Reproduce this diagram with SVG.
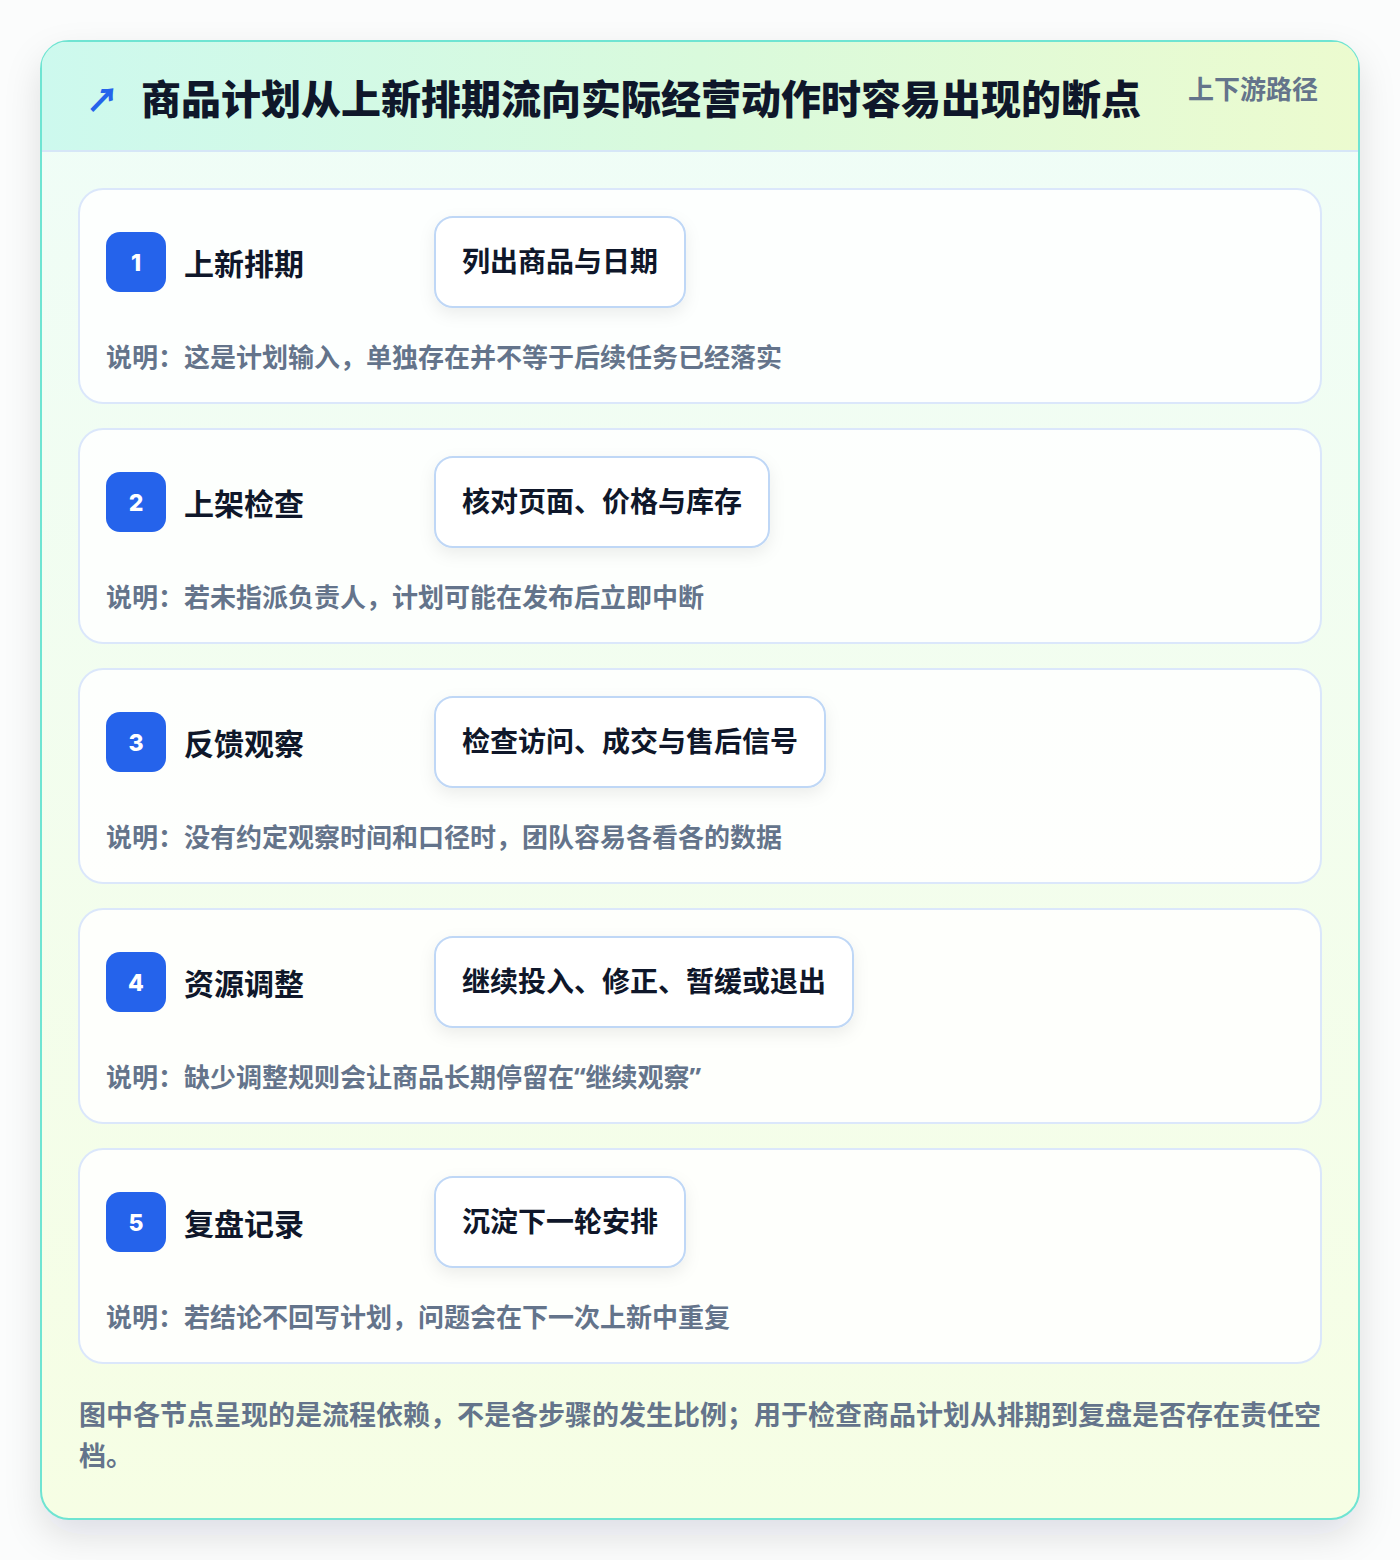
<svg xmlns="http://www.w3.org/2000/svg" width="1400" height="1560" viewBox="0 0 1400 1560">
  <defs>
    <linearGradient id="hdrGrad" x1="0" y1="0" x2="1" y2="0">
      <stop offset="0" stop-color="#cdf9ee"/>
      <stop offset="0.5" stop-color="#d9fadc"/>
      <stop offset="1" stop-color="#ecfbcf"/>
    </linearGradient>
    <linearGradient id="bodyGrad" x1="0" y1="0" x2="0" y2="1">
      <stop offset="0" stop-color="#effdf8"/>
      <stop offset="1" stop-color="#f6fee4"/>
    </linearGradient>
    <filter id="outerShadow" x="-10%" y="-10%" width="120%" height="120%">
      <feDropShadow dx="0" dy="16" stdDeviation="18" flood-color="#0f172a" flood-opacity="0.12"/>
    </filter>
    <filter id="pillShadow" x="-20%" y="-30%" width="140%" height="170%">
      <feDropShadow dx="0" dy="6" stdDeviation="8" flood-color="#0f172a" flood-opacity="0.07"/>
    </filter>
    <clipPath id="outerClip">
      <rect x="41" y="41" width="1318" height="1478" rx="28"/>
    </clipPath>
    <style>
      .cjk { font-family: "Noto Sans CJK SC", "Noto Sans", "Liberation Sans", sans-serif; }
      .lat { font-family: "Noto Sans", "Liberation Sans", sans-serif; }
      .card { fill: #ffffff; fill-opacity: 0.85; stroke: #dbe7fb; stroke-width: 2; }
      .badge { fill: #2563eb; }
      .badgeNum { font-family: "Inter", "Noto Sans", "Liberation Sans", sans-serif; font-size: 23px; font-weight: 800; fill: #ffffff; text-anchor: middle; }
      .stepTitle { font-size: 30px; font-weight: 700; fill: #0f172a; }
      .pill { fill: #ffffff; stroke: #bfd7f6; stroke-width: 2; }
      .pillText { font-size: 28px; font-weight: 700; fill: #0f172a; }
      .desc { font-size: 26px; font-weight: 700; fill: #64748b; }
      .foot { font-size: 27px; font-weight: 700; fill: #64748b; }
    </style>
  </defs>

  <rect x="0" y="0" width="1400" height="1560" fill="#fbfcfc"/>

  <g id="frame">
    <rect x="41" y="41" width="1318" height="1478" rx="28" fill="url(#bodyGrad)" filter="url(#outerShadow)"/>
    <rect x="41" y="41" width="1318" height="1478" rx="28" fill="url(#bodyGrad)" stroke="#6fe4d2" stroke-width="2"/>
  </g>

  <g id="header">
    <rect x="42" y="42" width="1316" height="109" fill="url(#hdrGrad)" clip-path="url(#outerClip)"/>
    <line x1="42" y1="151" x2="1358" y2="151" stroke="#d6e6f7" stroke-width="2"/>
    <text x="86" y="112" class="cjk" font-size="33" font-weight="800" fill="#2563eb">↗</text>
    <text x="141" y="114" class="cjk" font-size="40" font-weight="800" fill="#0f172a">商品计划从上新排期流向实际经营动作时容易出现的断点</text>
    <text x="1318" y="99" class="cjk" font-size="26" font-weight="700" fill="#64748b" text-anchor="end">上下游路径</text>
  </g>

  <g id="connectors"></g>

  <g id="step1">
    <rect class="card" x="79" y="189" width="1242" height="214" rx="24"/>
    <rect class="badge" x="106" y="232" width="60" height="60" rx="14"/>
    <text class="badgeNum" x="136" y="271">1</text>
    <text class="cjk stepTitle" x="184" y="275">上新排期</text>
    <rect class="pill" x="435" y="217" width="250" height="90" rx="18" filter="url(#pillShadow)"/>
    <text class="cjk pillText" x="462" y="272">列出商品与日期</text>
    <text class="cjk desc" x="106" y="367">说明：这是计划输入，单独存在并不等于后续任务已经落实</text>
  </g>

  <g id="step2">
    <rect class="card" x="79" y="429" width="1242" height="214" rx="24"/>
    <rect class="badge" x="106" y="472" width="60" height="60" rx="14"/>
    <text class="badgeNum" x="136" y="511">2</text>
    <text class="cjk stepTitle" x="184" y="515">上架检查</text>
    <rect class="pill" x="435" y="457" width="334" height="90" rx="18" filter="url(#pillShadow)"/>
    <text class="cjk pillText" x="462" y="512">核对页面、价格与库存</text>
    <text class="cjk desc" x="106" y="607">说明：若未指派负责人，计划可能在发布后立即中断</text>
  </g>

  <g id="step3">
    <rect class="card" x="79" y="669" width="1242" height="214" rx="24"/>
    <rect class="badge" x="106" y="712" width="60" height="60" rx="14"/>
    <text class="badgeNum" x="136" y="751">3</text>
    <text class="cjk stepTitle" x="184" y="755">反馈观察</text>
    <rect class="pill" x="435" y="697" width="390" height="90" rx="18" filter="url(#pillShadow)"/>
    <text class="cjk pillText" x="462" y="752">检查访问、成交与售后信号</text>
    <text class="cjk desc" x="106" y="847">说明：没有约定观察时间和口径时，团队容易各看各的数据</text>
  </g>

  <g id="step4">
    <rect class="card" x="79" y="909" width="1242" height="214" rx="24"/>
    <rect class="badge" x="106" y="952" width="60" height="60" rx="14"/>
    <text class="badgeNum" x="136" y="991">4</text>
    <text class="cjk stepTitle" x="184" y="995">资源调整</text>
    <rect class="pill" x="435" y="937" width="418" height="90" rx="18" filter="url(#pillShadow)"/>
    <text class="cjk pillText" x="462" y="992">继续投入、修正、暂缓或退出</text>
    <text class="cjk desc" x="106" y="1087">说明：缺少调整规则会让商品长期停留在<tspan class="lat">“</tspan>继续观察<tspan class="lat">”</tspan></text>
  </g>

  <g id="step5">
    <rect class="card" x="79" y="1149" width="1242" height="214" rx="24"/>
    <rect class="badge" x="106" y="1192" width="60" height="60" rx="14"/>
    <text class="badgeNum" x="136" y="1231">5</text>
    <text class="cjk stepTitle" x="184" y="1235">复盘记录</text>
    <rect class="pill" x="435" y="1177" width="250" height="90" rx="18" filter="url(#pillShadow)"/>
    <text class="cjk pillText" x="462" y="1232">沉淀下一轮安排</text>
    <text class="cjk desc" x="106" y="1327">说明：若结论不回写计划，问题会在下一次上新中重复</text>
  </g>

  <g id="footnote">
    <text class="cjk foot" x="79" y="1425">图中各节点呈现的是流程依赖，不是各步骤的发生比例；用于检查商品计划从排期到复盘是否存在责任空</text>
    <text class="cjk foot" x="79" y="1466">档。</text>
  </g>
</svg>
